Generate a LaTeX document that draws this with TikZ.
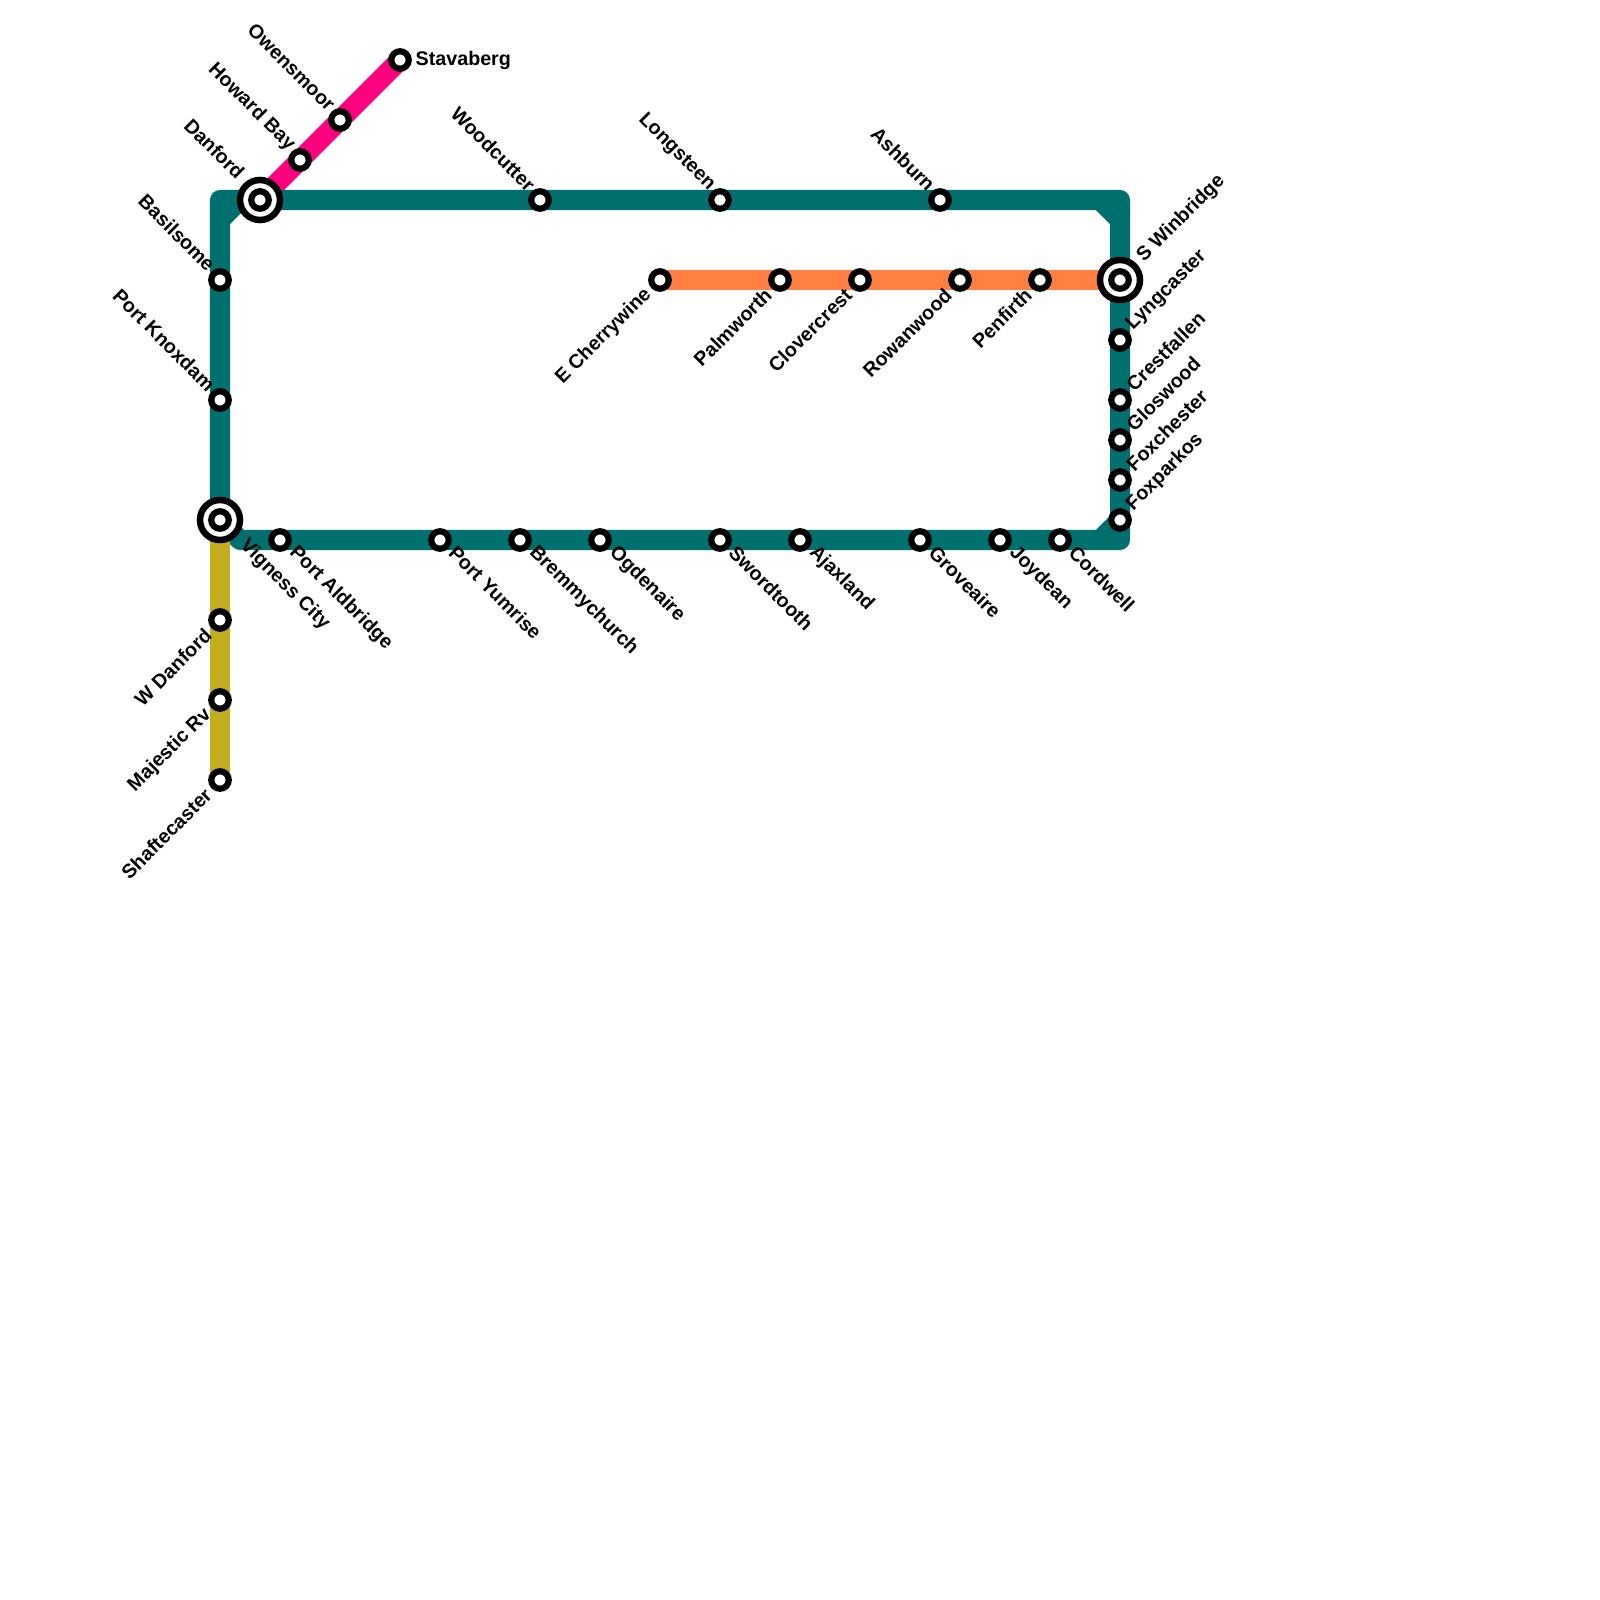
\documentclass[tikz,border=0pt]{standalone}
\usepackage{fontspec}
\setmainfont{Liberation Sans}
\usepackage{tikz}
\usetikzlibrary{backgrounds}
\definecolor{loopteal}{HTML}{00706E}
\definecolor{spurpink}{HTML}{FF0080}
\definecolor{barorange}{HTML}{FF8040}
\definecolor{spurgold}{HTML}{C2AD1F}
\tikzset{
  metro/.style={line width=2mm,line join=round,line cap=round},
  stn/.style={circle,draw=black,fill=white,line width=0.62mm,minimum size=1.75mm,inner sep=0pt},
  hubring/.style={circle,draw=black,fill=white,line width=0.65mm,minimum size=4mm,inner sep=0pt},
  lbl/.style={inner sep=0pt,font=\fontsize{5.6}{6}\selectfont\bfseries},
  lble/.style={lbl,anchor=west,xshift=1.5mm},
  lblne/.style={lbl,anchor=west,rotate=45,xshift=1.5mm,yshift=0.2mm},
  lblnw/.style={lbl,anchor=east,rotate=-45,xshift=-1.4mm,yshift=0.3mm},
  lblse/.style={lbl,anchor=west,rotate=-45,xshift=1.5mm,yshift=0.2mm},
  lblsw/.style={lbl,anchor=east,rotate=45,xshift=-1.6mm},
}
% station: name, position, label style, text
\newcommand{\stn}[4]{%
  \node[stn] (#1) at (#2) {};%
  \node[#3] (#1txt) at (#1) {#4};%
}
% interchange: the same with a ring round it
\newcommand{\hub}[4]{%
  \node[hubring] (#1ring) at (#2) {};%
  \stn{#1}{#2}{#3}{#4}%
}
\begin{document}
\begin{tikzpicture}[x=0.01cm,y=-0.01cm]
  \useasboundingbox (0,0) rectangle (1600,1600);
  % pink line
  \stn{stavaberg}{400,60}{lble}{Stavaberg}
  \stn{owensmoor}{340,120}{lblnw}{Owensmoor}
  \stn{howardbay}{300,160}{lblnw}{Howard Bay}
  \hub{danford}{260,200}{lblnw,xshift=-1.6mm,yshift=0.1mm}{Danford}
  % teal loop
  \stn{basilsome}{220,280}{lblnw}{Basilsome}
  \stn{knoxdam}{220,400}{lblnw}{Port Knoxdam}
  \hub{vigness}{220,520}{lblse,xshift=1.7mm,yshift=-0.2mm}{Vigness City}
  \stn{woodcutter}{540,200}{lblnw}{Woodcutter}
  \stn{longsteen}{720,200}{lblnw}{Longsteen}
  \stn{ashburn}{940,200}{lblnw}{Ashburn}
  \hub{winbridge}{1120,280}{lblne,xshift=1.35mm,yshift=-0.2mm}{S Winbridge}
  \stn{lyngcaster}{1120,340}{lblne}{Lyngcaster}
  \stn{crestfallen}{1120,400}{lblne}{Crestfallen}
  \stn{gloswood}{1120,440}{lblne}{Gloswood}
  \stn{foxchester}{1120,480}{lblne}{Foxchester}
  \stn{foxparkos}{1120,520}{lblne}{Foxparkos}
  \stn{cordwell}{1060,540}{lblse}{Cordwell}
  \stn{joydean}{1000,540}{lblse}{Joydean}
  \stn{groveaire}{920,540}{lblse}{Groveaire}
  \stn{ajaxland}{800,540}{lblse}{Ajaxland}
  \stn{swordtooth}{720,540}{lblse}{Swordtooth}
  \stn{ogdenaire}{600,540}{lblse}{Ogdenaire}
  \stn{bremmy}{520,540}{lblse}{Bremmychurch}
  \stn{yumrise}{440,540}{lblse}{Port Yumrise}
  \stn{aldbridge}{280,540}{lblse}{Port Aldbridge}
  % orange line
  \stn{cherrywine}{660,280}{lblsw}{E Cherrywine}
  \stn{palmworth}{780,280}{lblsw}{Palmworth}
  \stn{clovercrest}{860,280}{lblsw}{Clovercrest}
  \stn{rowanwood}{960,280}{lblsw}{Rowanwood}
  \stn{penfirth}{1040,280}{lblsw}{Penfirth}
  % gold line
  \stn{wdanford}{220,620}{lblsw}{W Danford}
  \stn{majestic}{220,700}{lblsw}{Majestic Rv}
  \stn{shaftecaster}{220,780}{lblsw}{Shaftecaster}
  % corners
  \coordinate (nw) at (220,200); \coordinate (ne) at (1120,200);
  \coordinate (se) at (1120,540); \coordinate (sw) at (240,540);
  \begin{scope}[on background layer]
    \draw[metro,spurpink] (danford.center)--(howardbay.center)--(owensmoor.center)--(stavaberg.center);
    \draw[metro,loopteal] (vigness.center)--(nw)--(ne)--(se)--(sw)--cycle;
    \draw[metro,loopteal,line cap=butt] (220,220)--(240,200);
    \draw[metro,loopteal,line cap=butt] (1100,200)--(1120,220);
    \draw[metro,loopteal,line cap=butt] (1100,540)--(1120,520);
    \draw[metro,barorange] (cherrywine.center)--(winbridge.center);
    \draw[metro,spurgold] (vigness.center)--(wdanford.center)--(majestic.center)--(shaftecaster.center);
  \end{scope}
\end{tikzpicture}
\end{document}
